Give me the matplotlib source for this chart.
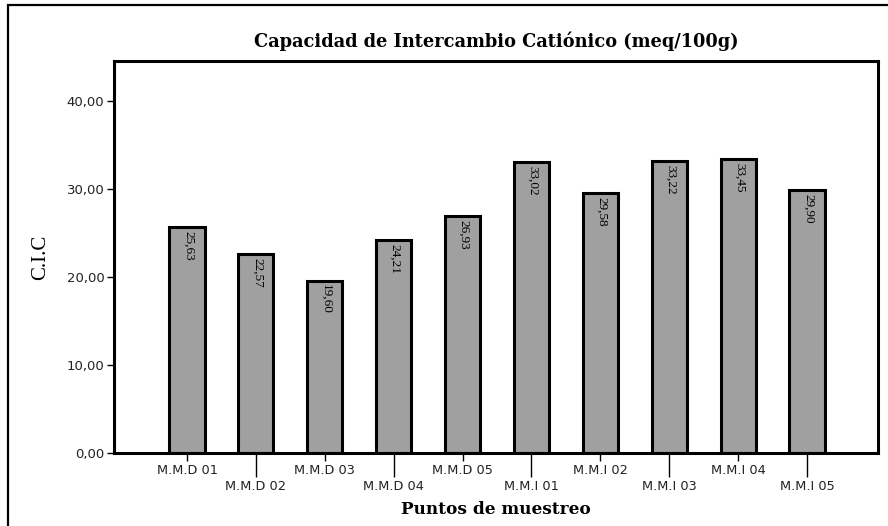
#!/usr/bin/env python3
# -*- coding: utf-8 -*-
"""
Capacidad de Intercambio Cationico por punto de muestreo.
"""

import matplotlib
matplotlib.use('Agg')
import matplotlib.pyplot as plt
from matplotlib.patches import Rectangle

PUNTOS = ['M.M.D 01', 'M.M.D 02', 'M.M.D 03', 'M.M.D 04', 'M.M.D 05',
          'M.M.I 01', 'M.M.I 02', 'M.M.I 03', 'M.M.I 04', 'M.M.I 05']
CIC = [25.63, 22.57, 19.60, 24.21, 26.93, 33.02, 29.58, 33.22, 33.45, 29.90]
Y_TICKS = [0, 10, 20, 30, 40]


def fmt(v):
    return ('%.2f' % v).replace('.', ',')


def make_plot():
    fig = plt.figure(figsize=(8.88, 5.26), dpi=100)
    ax = fig.add_axes([0.1284, 0.1388, 0.8603, 0.7452])

    # outer frame of the exported chart
    fig.patches.append(Rectangle((8 / 888, -0.05), 1.1, 1.05 - 5 / 526,
                                 transform=fig.transFigure, fill=False,
                                 edgecolor='black', linewidth=1.6))

    x = list(range(len(PUNTOS)))
    ax.bar(x, CIC, width=0.51, color='#a0a0a0', edgecolor='black',
           linewidth=2.2)
    for xi, v in zip(x, CIC):
        ax.text(xi + 0.02, v - 0.45, fmt(v), rotation=270, ha='center',
                va='top', fontsize=9.5, family='Liberation Serif',
                fontstretch='condensed')

    ax.set_xlim(-1.06, 10.03)
    ax.set_ylim(0, 44.55)
    ax.set_yticks(Y_TICKS)
    ax.set_yticklabels([fmt(t) for t in Y_TICKS], fontsize=9.5,
                       color='#222222')

    # alternating label rows, like the original export
    ax.set_xticks(x[0::2])
    ax.set_xticklabels(PUNTOS[0::2], fontsize=9.3, color='#222222')
    ax.set_xticks(x[1::2], minor=True)
    ax.set_xticklabels(PUNTOS[1::2], minor=True, fontsize=9.3,
                       color='#222222')
    ax.tick_params(axis='x', which='major', length=6, width=1, pad=2)
    ax.tick_params(axis='x', which='minor', length=17.5, width=1, pad=2)
    ax.tick_params(axis='y', length=5, width=1, pad=2)

    for sp in ax.spines.values():
        sp.set_linewidth(2.2)

    ax.set_title('Capacidad de Intercambio Catiónico (meq/100g)',
                 family='DejaVu Serif', fontweight='bold', fontsize=12.8,
                 pad=10)
    ax.set_ylabel('C.I.C', family='Liberation Serif', fontsize=15,
                  labelpad=12)
    ax.set_xlabel('Puntos de muestreo', family='DejaVu Serif',
                  fontweight='bold', fontsize=12.2, labelpad=6)

    fig.savefig('out.png', dpi=100)


if __name__ == '__main__':
    make_plot()
